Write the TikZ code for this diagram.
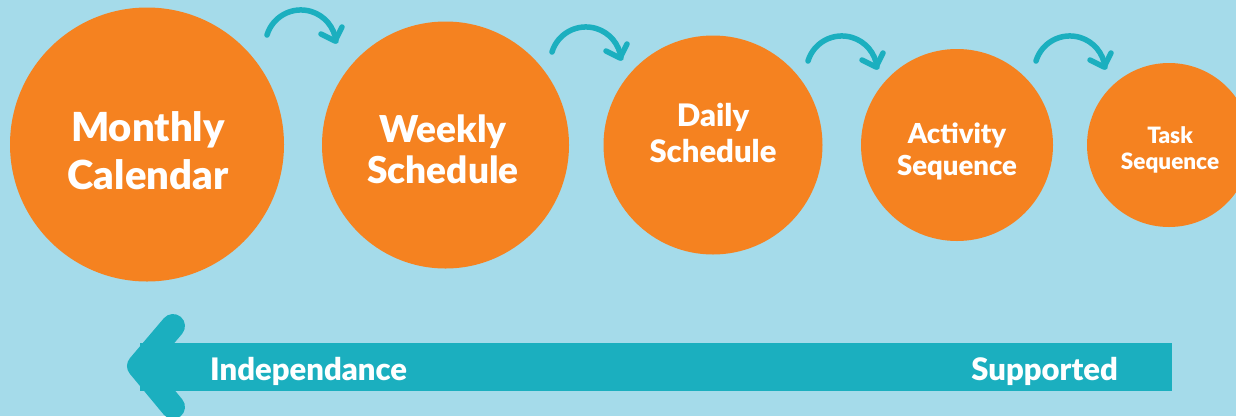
\documentclass[tikz,border=0pt]{standalone}
\usepackage{fontspec}
\setmainfont{Lato}[BoldFont={Lato Black}]
\usetikzlibrary{calc}
\definecolor{bgblue}{HTML}{A5DBEA}
\definecolor{orng}{HTML}{F58220}
\definecolor{teal2}{HTML}{1BAFBF}
\tikzset{
  circ/.style={circle, fill=orng, inner sep=0pt},
  lbl/.style={text=white, align=center, inner sep=0pt, font=\bfseries},
  curvy/.style={draw=teal2, line width=5.5pt, line cap=round, line join=round},
}
\newcommand{\curvearrow}[1]{%
  \begin{scope}[shift={(#1)}]
    \draw[curvy] (0,0) arc[start angle=163, end angle=7, radius=35.4];
    \draw[curvy] (54,1) -- (68,-6) -- (75,8);
  \end{scope}}
\begin{document}
\begin{tikzpicture}[x=1pt,y=1pt]
\fill[bgblue] (0,0) rectangle (1236,-416);
\useasboundingbox (0,0) rectangle (1236,-416);

% circles
\node[circ, minimum size=274pt] (c1) at (147,-144.5) {};
\node[circ, minimum size=247pt] (c2) at (445.5,-145) {};
\node[circ, minimum size=219pt] (c3) at (713,-145) {};
\node[circ, minimum size=192pt] (c4) at (957,-145) {};
\node[circ, minimum size=164pt] (c5) at (1169,-145) {};

% labels
\node[lbl, font=\fontsize{40}{48}\bfseries\selectfont] (t1) at (148,-151) {Monthly\\Calendar};
\node[lbl, font=\fontsize{37}{41}\bfseries\selectfont] (t2) at (443,-149) {Weekly\\Schedule};
\node[lbl, font=\fontsize{31}{36}\bfseries\selectfont] (t3) at (713,-133) {Daily\\Schedule};
\node[lbl, font=\fontsize{27.5}{32}\bfseries\selectfont] (t4) at (957,-151) {Activity\\Sequence};
\node[lbl, font=\fontsize{22.5}{26}\bfseries\selectfont] (t5) at (1170,-150) {Task\\Sequence};

% curved arrows
\coordinate (a1) at (267,-35);
\coordinate (a2) at (552,-52);
\coordinate (a3) at (808,-61);
\coordinate (a4) at (1036,-61);
\curvearrow{a1}
\curvearrow{a2}
\curvearrow{a3}
\curvearrow{a4}

% big arrow
\fill[teal2] (140,-343) rectangle (1172,-391);
\coordinate (tip) at (139,-366);
\coordinate (armU) at (173,-326);
\coordinate (armD) at (173,-407);
\draw[teal2, line width=24pt, line cap=round, line join=round] (armU) -- (tip) -- (armD);

\node[lbl, font=\fontsize{31}{36}\bfseries\selectfont, anchor=base west] (ind) at (210,-380) {Independance};
\node[lbl, font=\fontsize{31}{36}\bfseries\selectfont, anchor=base east] (sup) at (1118,-380) {Supported};
\end{tikzpicture}
\end{document}
